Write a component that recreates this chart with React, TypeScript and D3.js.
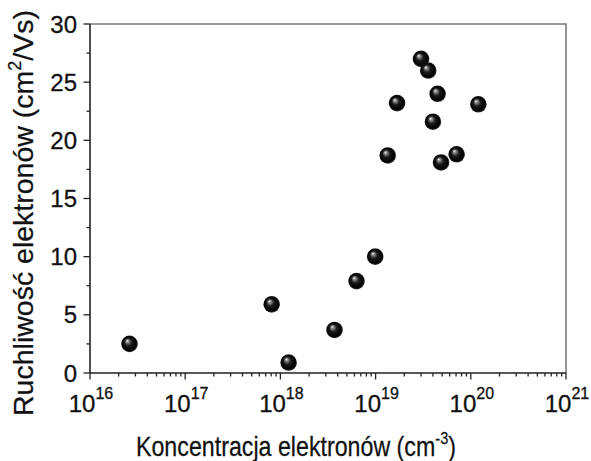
import React, { useEffect, useRef } from 'react';
import * as d3 from 'd3';

// electron concentration (cm^-3) and mobility (cm2/Vs)
const concentration = [2.6e16, 8.1e17, 1.22e18, 3.7e18, 6.3e18, 9.9e18, 1.34e19, 1.68e19, 3.0e19, 3.57e19, 4.0e19, 4.48e19, 7.1e19, 4.87e19, 1.2e20];
const mobility = [2.5, 5.9, 0.9, 3.7, 7.9, 10.0, 18.7, 23.2, 27.0, 26.0, 21.6, 24.0, 18.8, 18.1, 23.1];

const xExponents = [16, 17, 18, 19, 20, 21];
const yTicks = [0, 5, 10, 15, 20, 25, 30];

const W = 591;
const H = 461;
const FONT = "'Liberation Sans', Arial, sans-serif";

function App() {
  const ref = useRef<SVGSVGElement>(null);

  useEffect(() => {
    document.body.style.margin = '0';
    const svg = d3.select(ref.current);
    svg.selectAll('*').remove();

    const x = d3.scaleLog().domain([1e16, 1e21]).range([90, 566]);
    const y = d3.scaleLinear().domain([0, 30]).range([373, 24]);

    const grad = svg.append('defs').append('radialGradient')
      .attr('id', 'ball')
      .attr('cx', '50%').attr('cy', '50%').attr('r', '50%')
      .attr('fx', '35%').attr('fy', '30%');
    grad.append('stop').attr('offset', '0%').attr('stop-color', '#ffffff');
    grad.append('stop').attr('offset', '14%').attr('stop-color', '#9a9a9a');
    grad.append('stop').attr('offset', '45%').attr('stop-color', '#1a1a1a');
    grad.append('stop').attr('offset', '85%').attr('stop-color', '#000000');
    grad.append('stop').attr('offset', '100%').attr('stop-color', '#333333');

    // frame (top / right in grey)
    svg.append('path')
      .attr('d', `M${x.range()[0]},${y(30)}H${x.range()[1]}V${y(0)}`)
      .attr('fill', 'none').attr('stroke', '#7a7a7a').attr('stroke-width', 1.6);

    // x axis
    const xAxis = svg.append('g').attr('transform', `translate(0,${y(0)})`);
    xAxis.append('line').attr('x1', x.range()[0]).attr('x2', x.range()[1])
      .attr('stroke', '#222').attr('stroke-width', 1.6);
    const minor: number[] = [];
    xExponents.slice(0, -1).forEach(e => {
      for (let m = 2; m <= 9; m++) minor.push(m * Math.pow(10, e));
    });
    xAxis.selectAll('.minor').data(minor).enter().append('line')
      .attr('x1', d => x(d)).attr('x2', d => x(d)).attr('y1', 0).attr('y2', 3.5)
      .attr('stroke', '#222').attr('stroke-width', 1.3);
    xAxis.selectAll('.major').data(xExponents).enter().append('line')
      .attr('x1', d => x(Math.pow(10, d))).attr('x2', d => x(Math.pow(10, d)))
      .attr('y1', 0).attr('y2', 6.5)
      .attr('stroke', '#222').attr('stroke-width', 1.3);
    const xl = xAxis.selectAll('.lab').data(xExponents).enter().append('text')
      .attr('x', d => x(Math.pow(10, d)) + 1).attr('y', 39)
      .attr('text-anchor', 'middle')
      .attr('font-family', FONT).attr('font-size', 24).attr('fill', '#111')
      .attr('stroke', '#111').attr('stroke-width', 0.3);
    xl.append('tspan').text('10');
    xl.append('tspan').attr('font-size', 16).attr('dy', -13).text(d => String(d));

    // y axis
    const yAxis = svg.append('g').attr('transform', `translate(${x.range()[0]},0)`);
    yAxis.append('line').attr('y1', y(0)).attr('y2', y(30))
      .attr('stroke', '#222').attr('stroke-width', 1.6);
    yAxis.selectAll('.minor').data(d3.range(2.5, 30, 5)).enter().append('line')
      .attr('x1', 0).attr('x2', -3.5).attr('y1', d => y(d)).attr('y2', d => y(d))
      .attr('stroke', '#222').attr('stroke-width', 1.3);
    yAxis.selectAll('.major').data(yTicks).enter().append('line')
      .attr('x1', 0).attr('x2', -6.5).attr('y1', d => y(d)).attr('y2', d => y(d))
      .attr('stroke', '#222').attr('stroke-width', 1.3);
    yAxis.selectAll('.lab').data(yTicks).enter().append('text')
      .attr('x', -13).attr('y', d => y(d) + 8.5)
      .attr('text-anchor', 'end')
      .attr('font-family', FONT).attr('font-size', 24).attr('fill', '#111')
      .attr('stroke', '#111').attr('stroke-width', 0.3)
      .text(d => String(d));

    // axis titles
    const xt = svg.append('text')
      .attr('transform', 'translate(296,456) scale(0.86,1)')
      .attr('text-anchor', 'middle')
      .attr('font-family', FONT).attr('font-size', 27).attr('fill', '#111')
      .attr('stroke', '#111').attr('stroke-width', 0.25);
    xt.append('tspan').text('Koncentracja elektronów (cm');
    xt.append('tspan').attr('font-size', 17).attr('dy', -12).text('-3');
    xt.append('tspan').attr('dy', 12).text(')');

    const yt = svg.append('text')
      .attr('transform', `translate(33,213) rotate(-90)`)
      .attr('text-anchor', 'middle')
      .attr('font-family', FONT).attr('font-size', 28.5).attr('fill', '#111')
      .attr('stroke', '#111').attr('stroke-width', 0.25);
    yt.append('tspan').text('Ruchliwość elektronów (cm');
    yt.append('tspan').attr('font-size', 18).attr('dy', -12).text('2');
    yt.append('tspan').attr('dy', 12).text('/Vs)');

    // spheres
    svg.append('g').selectAll('circle')
      .data(concentration.map((c, i) => [c, mobility[i]]))
      .enter().append('circle')
      .attr('cx', d => x(d[0])).attr('cy', d => y(d[1]))
      .attr('r', 8.3)
      .attr('fill', 'url(#ball)');
  }, []);

  return <svg ref={ref} width={W} height={H} style={{ display: 'block', background: '#fff' }} />;
}

export default App;
